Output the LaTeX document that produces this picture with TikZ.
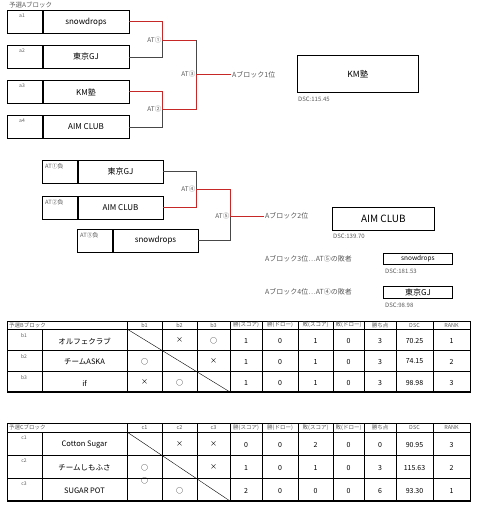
\documentclass[tikz,border=0pt]{standalone}
\usepackage{fontspec}
\setmainfont{Noto Sans CJK JP}
\usetikzlibrary{positioning,calc}
\definecolor{winred}{HTML}{C62828}
\definecolor{losegray}{HTML}{474747}
\definecolor{lbltext}{HTML}{5A5A5A}
\def\tblcols{{0,0,144.5,179.5,213.5,246,280,315.5,348.5,380,414.5,451.5}}
\def\nomark{-}

\begin{document}
\begin{tikzpicture}[x=1pt, y=-1pt,
  idcell/.style={draw=black, line width=0.7pt, inner sep=0pt, anchor=north west},
  namecell/.style={draw=black, line width=0.7pt, inner sep=0pt, anchor=north west,
                   font=\fontsize{8}{9}\selectfont},
  idtext/.style={font=\fontsize{5}{6}\selectfont, text=lbltext, inner sep=0pt},
  atlbl/.style={font=\fontsize{6.5}{7}\selectfont, text=lbltext, inner sep=0.5pt, anchor=east},
  win/.style={draw=winred, line width=1pt},
  lose/.style={draw=losegray, line width=0.6pt},
  ranktext/.style={font=\fontsize{7}{8}\selectfont, text=lbltext, inner sep=1pt, anchor=west},
  resbox/.style={draw=black, line width=0.8pt, inner sep=0pt, anchor=north west},
  dsc/.style={font=\fontsize{6}{7}\selectfont, text=lbltext, inner sep=0pt, anchor=west},
  grid/.style={draw=black, line width=0.4pt},
  tblhead/.style={font=\fontsize{5.5}{6}\selectfont, text=lbltext, inner sep=0pt},
  tblname/.style={font=\fontsize{7.5}{8}\selectfont, inner sep=0pt},
  tblval/.style={font=\fontsize{7}{8}\selectfont, inner sep=0pt},
]
  \useasboundingbox (0,0) rectangle (480,512);

  % Block A bracket
  \node[tblhead, font=\fontsize{6.5}{7}\selectfont, anchor=west] (titleA) at (9,5) {予選Aブロック};
  \foreach \i/\y/\t in {1/10/snowdrops, 2/45/東京GJ, 3/80/KM塾, 4/115/AIM CLUB} {
    \node[idcell, minimum width=35pt, minimum height=23pt] (a\i id) at (7,\y) {};
    \node[namecell, minimum width=86pt, minimum height=23pt] (a\i) at (a\i id.north east) {\t};
    \node[idtext, anchor=north] (a\i lbl) at ([shift={(15,4)}]a\i id.north west) {a\i};
  }
  \coordinate (at1) at (162,40);
  \coordinate (at2) at (162,109);
  \coordinate (at3) at (196,74.5);
  \node[ranktext] (rank1) at (231,74.5) {Aブロック1位};
  \draw[lose] (a2.east) -| (at1);
  \draw[win] (a1.east) -| (at1);
  \draw[lose] (a4.east) -| (at2);
  \draw[win] (a3.east) -| (at2);
  \draw[lose] (at1) -| (at3);
  \draw[win] (at1) -- (at1 -| at3);
  \draw[win] (at2) -| (at3);
  \draw[win] (at3) -- (rank1.west);
  \node[atlbl] (at1lbl) at (at1) {AT①};
  \node[atlbl] (at2lbl) at (at2) {AT②};
  \node[atlbl] (at3lbl) at (at3) {AT③};

  % 1st place
  \node[resbox, minimum width=121pt, minimum height=37pt,
        font=\fontsize{8.5}{9}\selectfont] (first) at (297,55) {KM塾};
  \node[dsc] (firstdsc) at (298,99) {DSC:115.45};

  % Losers bracket
  \foreach \i/\x/\y/\lbl/\t in {1/42/160/AT①負/東京GJ, 2/42/196/AT②負/AIM CLUB,
                                3/77/229/AT③負/snowdrops} {
    \node[idcell, minimum width=35pt, minimum height=22.5pt] (l\i id) at (\x,\y) {};
    \node[namecell, minimum width=85pt, minimum height=22.5pt] (l\i) at (l\i id.north east) {\t};
    \node[idtext, font=\fontsize{5.8}{6}\selectfont, anchor=north west] (l\i lbl)
      at ([shift={(3,3)}]l\i id.north west) {\lbl};
  }
  \coordinate (at4) at (196,189.5);
  \coordinate (at5) at (230,216);
  \node[ranktext] (rank2) at (264,216) {Aブロック2位};
  \draw[lose] (l1.east) -| (at4);
  \draw[win] (l2.east) -| (at4);
  \draw[lose] (l3.east) -| (at5);
  \draw[win] (at4) -| (at5);
  \draw[win] (at5) -- (rank2.west);
  \node[atlbl] (at4lbl) at (at4) {AT④};
  \node[atlbl] (at5lbl) at (at5) {AT⑤};

  % 2nd to 4th place
  \node[resbox, minimum width=102pt, minimum height=23pt] (second) at (332,207) {AIM CLUB};
  \node[dsc] (seconddsc) at (333,236) {DSC:139.70};
  \node[ranktext] (rank3) at (264,258.5) {Aブロック3位…AT⑤の敗者};
  \node[resbox, minimum width=69pt, minimum height=11pt,
        font=\fontsize{6.5}{7}\selectfont] (third) at (383,253) {snowdrops};
  \node[dsc] (thirddsc) at (385,271) {DSC:181.53};
  \node[ranktext] (rank4) at (264,292) {Aブロック4位…AT④の敗者};
  \node[resbox, minimum width=69pt, minimum height=12pt,
        font=\fontsize{8}{9}\selectfont] (fourth) at (383,286) {東京GJ};
  \node[dsc] (fourthdsc) at (385,305) {DSC:98.98};

  % Blocks B and C tables
  \foreach \tb/\tl/\ty/\hh/\rh in {B/b/321/8/21, C/c/423/9/23} {
    \pgfmathsetmacro\hy{\ty+\hh}
    \pgfmathsetmacro\by{\hy+3*\rh}
    \draw[grid] (7,\ty) rectangle (470,\by);
    \foreach \k in {0,1,2} \draw[grid] (7,\hy+\k*\rh) -- (470,\hy+\k*\rh);
    \draw[grid] (42,\hy) -- (42,\by);
    \foreach \x in {127,162,197,230,262,298,333,364,396,433} \draw[grid] (\x,\ty) -- (\x,\by);
    \draw[grid] (127,\hy) -- (230,\by);
    \draw[line width=1.2pt] (7,\by) -- (470,\by);
    \foreach \h [count=\c from 2] in {\tl1,\tl2,\tl3,勝(スコア),勝(ドロー),敗(スコア),敗(ドロー),勝ち点,DSC,RANK} {
      \pgfmathsetmacro\cx{\tblcols[\c]}
      \node[tblhead] (\tb h\c) at (\cx,\ty+\hh/2) {\h};
    }
  }
  \node[tblhead, anchor=west] (titleB) at (9,325) {予選Bブロック};
  \node[tblhead, anchor=west] (titleC) at (9,427.5) {予選Cブロック};

  \foreach \r/\rid/\team/\vals in {
      1/b1/オルフェクラブ/{-,×,○,1,0,1,0,3,70.25,1},
      2/b2/チームASKA/{○,-,×,1,0,1,0,3,74.15,2},
      3/b3/if/{×,○,-,1,0,1,0,3,98.98,3}} {
    \pgfmathsetmacro\ry{329+(\r-1)*21}
    \node[idtext, anchor=north] (B\r id) at (24,\ry+4) {\rid};
    \node[tblname] (B\r) at (84.5,\ry+12) {\team};
    \foreach \v [count=\c from 2] in \vals {
      \edef\cellv{\v}
      \ifx\cellv\nomark\else
        \pgfmathsetmacro\cx{\tblcols[\c]}
        \node[tblval] (B\r-\c) at (\cx,\ry+11.5) {\v};
      \fi
    }
  }

  \foreach \r/\rid/\team/\vals in {
      1/c1/Cotton Sugar/{-,×,×,0,0,2,0,0,90.95,3},
      2/c2/チームしもふさ/{○,-,×,1,0,1,0,3,115.63,2},
      3/c3/SUGAR POT/{-,○,-,2,0,0,0,6,93.30,1}} {
    \pgfmathsetmacro\ry{432+(\r-1)*23}
    \node[idtext, anchor=north] (C\r id) at (24,\ry+4) {\rid};
    \node[tblname] (C\r) at (84.5,\ry+13) {\team};
    \foreach \v [count=\c from 2] in \vals {
      \edef\cellv{\v}
      \ifx\cellv\nomark\else
        \pgfmathsetmacro\cx{\tblcols[\c]}
        \node[tblval] (C\r-\c) at (\cx,\ry+12.5) {\v};
      \fi
    }
  }
  \node[tblval] (C3-2) at (144.5,481) {○};
\end{tikzpicture}
\end{document}
